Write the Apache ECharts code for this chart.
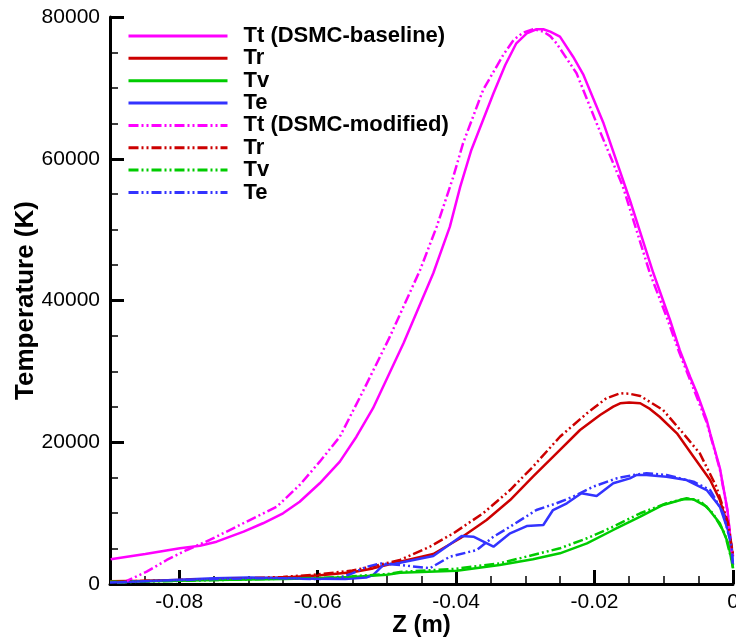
<!DOCTYPE html>
<html>
<head>
<meta charset="utf-8">
<script src="https://cdn.jsdelivr.net/npm/echarts@6/dist/echarts.min.js"></script>
<style>
html,body{margin:0;padding:0;background:#fff;}
#chart{width:736px;height:641px;}
</style>
</head>
<body>
<div id="chart"></div>
<script>
// ---- data (Z in m, temperature in K) ----
var legendLabels = ['Tt (DSMC-baseline)', 'Tr', 'Tv', 'Te', 'Tt (DSMC-modified)', 'Tr', 'Tv', 'Te'];
var yTicks = [0, 20000, 40000, 60000, 80000];

var ttBase = [[-0.0899,3480],[-0.0849,4230],[-0.0799,5040],[-0.0770,5400],[-0.0746,5970],[-0.0707,7380],[-0.0679,8570],[-0.0650,9980],[-0.0626,11610],[-0.0597,14210],[-0.0568,17260],[-0.0544,20780],[-0.0520,24800],[-0.0476,33960],[-0.0433,43840],[-0.0409,50420],[-0.0394,56060],[-0.0378,61240],[-0.0346,69240],[-0.0329,73230],[-0.0313,76290],[-0.0298,77700],[-0.0284,78270],[-0.0274,78270],[-0.0264,77930],[-0.0250,77230],[-0.0231,74400],[-0.0216,71820],[-0.0187,65000],[-0.0149,54180],[-0.0115,43840],[-0.0091,37250],[-0.0077,33020],[-0.0062,29250],[-0.0052,26910],[-0.0038,23140],[-0.0033,21260],[-0.0019,16370],[-0.0008,10440],[-0.0002,4800],[0,4100]];
var trBase = [[-0.09,400],[-0.085,450],[-0.08,550],[-0.075,650],[-0.07,750],[-0.065,900],[-0.06,1200],[-0.055,1650],[-0.052,2200],[-0.0481,3150],[-0.0433,4230],[-0.0394,6450],[-0.0356,9030],[-0.0322,11850],[-0.0289,15140],[-0.0255,18440],[-0.0221,21730],[-0.0192,23850],[-0.0173,25020],[-0.0163,25500],[-0.0150,25600],[-0.0134,25500],[-0.0120,24700],[-0.0106,23600],[-0.0081,21260],[-0.0057,17960],[-0.0033,14670],[-0.0019,11850],[-0.0007,8080],[0,3900]];
var tvBase = [[-0.09,300],[-0.085,400],[-0.08,450],[-0.075,550],[-0.07,650],[-0.065,700],[-0.06,800],[-0.055,1000],[-0.05,1300],[-0.0481,1590],[-0.0399,1880],[-0.0337,2680],[-0.0289,3490],[-0.0250,4330],[-0.0211,5740],[-0.0173,7620],[-0.0134,9500],[-0.0101,11150],[-0.0072,11950],[-0.0057,11950],[-0.0038,10910],[-0.0019,8570],[-0.0007,5740],[0,2300]];
var teBase = [[-0.09,200],[-0.085,400],[-0.08,600],[-0.075,800],[-0.07,900],[-0.065,850],[-0.06,750],[-0.056,700],[-0.053,900],[-0.052,1250],[-0.0505,2700],[-0.0481,3000],[-0.0433,3950],[-0.0392,6770],[-0.0375,6670],[-0.0346,5260],[-0.0322,7150],[-0.0298,8180],[-0.0274,8330],[-0.0260,10440],[-0.0240,11390],[-0.0219,12800],[-0.0197,12420],[-0.0173,14210],[-0.0149,14910],[-0.0139,15380],[-0.0125,15380],[-0.0096,15140],[-0.0067,14670],[-0.0038,13260],[-0.0019,10910],[-0.0004,6670],[0,2700]];
var ttMod = [[-0.0881,200],[-0.0847,1740],[-0.0818,3390],[-0.0789,4800],[-0.0756,6210],[-0.0722,7860],[-0.0693,9270],[-0.0659,10910],[-0.0626,13970],[-0.0597,17260],[-0.0568,20780],[-0.0534,27300],[-0.0496,34830],[-0.0452,44310],[-0.0428,50420],[-0.0404,57470],[-0.0390,62180],[-0.0361,69710],[-0.0332,74640],[-0.0317,76760],[-0.0303,77800],[-0.0288,78300],[-0.0274,77930],[-0.0264,77300],[-0.0255,76290],[-0.0226,72060],[-0.0197,65000],[-0.0159,56060],[-0.0120,43840],[-0.0096,37720],[-0.0077,32500],[-0.0062,28800],[-0.0038,22800],[-0.0019,16200],[-0.0008,10300],[-0.0002,4700],[0,4000]];
var trMod = [[-0.089,300],[-0.085,450],[-0.08,550],[-0.075,650],[-0.07,800],[-0.065,1000],[-0.06,1350],[-0.055,1900],[-0.052,2500],[-0.0481,3390],[-0.0438,5260],[-0.0404,7150],[-0.0361,9980],[-0.0322,13260],[-0.0289,16550],[-0.0250,20780],[-0.0211,24090],[-0.0183,26200],[-0.0163,26910],[-0.0150,26850],[-0.0134,26530],[-0.0101,24550],[-0.0072,21260],[-0.0048,18440],[-0.0024,13730],[-0.0007,8570],[0,4100]];
var tvMod = [[-0.089,200],[-0.085,350],[-0.08,450],[-0.075,550],[-0.07,650],[-0.065,750],[-0.06,850],[-0.055,1100],[-0.05,1400],[-0.0481,1700],[-0.04,2150],[-0.0337,2920],[-0.0289,4090],[-0.0250,5040],[-0.0211,6450],[-0.0173,8090],[-0.0134,9980],[-0.0096,11390],[-0.0067,12090],[-0.0048,11750],[-0.0029,9980],[-0.0012,7150],[-0.0002,3390],[0,2200]];
var teMod = [[-0.089,200],[-0.085,400],[-0.08,550],[-0.075,700],[-0.07,800],[-0.065,800],[-0.06,700],[-0.057,800],[-0.055,1500],[-0.053,2400],[-0.051,2900],[-0.0481,2680],[-0.0438,2220],[-0.0409,3850],[-0.0370,4800],[-0.0346,6670],[-0.0322,8090],[-0.0284,10440],[-0.0255,11390],[-0.0231,12320],[-0.0202,13730],[-0.0168,14910],[-0.0144,15380],[-0.0125,15620],[-0.0096,15380],[-0.0057,14440],[-0.0033,13260],[-0.0014,9980],[-0.0002,5260],[0,2500]];

// ---- styling ----
var COLORS = {tt:'#ff00ff', tr:'#cc0000', tv:'#00cc00', te:'#3333ff'};
var DASH = [10, 3, 2, 3, 2, 3];
var FONT = '"Liberation Sans", Arial, Helvetica, sans-serif';

function mk(idx, data, color, dashed) {
  // unique internal names (legend shows trimmed text)
  var name = legendLabels[idx] + (idx >= 5 ? ' ' : '');
  return {
    name: name, type: 'line', data: data, xAxisIndex: 0, yAxisIndex: 0,
    symbol: 'none', showSymbol: false, smooth: false, animation: false,
    lineStyle: {color: color, width: 2.5, type: dashed ? DASH : 'solid'},
    itemStyle: {color: color}
  };
}

var series = [
  mk(0, ttBase, COLORS.tt, false),
  mk(1, trBase, COLORS.tr, false),
  mk(2, tvBase, COLORS.tv, false),
  mk(3, teBase, COLORS.te, false),
  mk(4, ttMod, COLORS.tt, true),
  mk(5, trMod, COLORS.tr, true),
  mk(6, tvMod, COLORS.tv, true),
  mk(7, teMod, COLORS.te, true)
];

var chart = echarts.init(document.getElementById('chart'), null, {renderer: 'canvas'});
chart.setOption({
  animation: false,
  backgroundColor: '#ffffff',
  textStyle: {fontFamily: FONT},
  grid: {left: 110, right: 3, top: 17, bottom: 57, containLabel: false, outerBoundsMode: 'none'},
  legend: {
    orient: 'vertical', left: 127, top: 25, padding: 0,
    itemWidth: 99, itemHeight: 10, itemGap: 0.35,
    data: series.map(function (s) { return s.name; }),
    formatter: function (n) { return n.trim(); },
    lineStyle: {width: 3},
    itemStyle: {color: 'transparent', borderColor: 'transparent', borderWidth: 0, opacity: 0},
    textStyle: {fontFamily: FONT, fontSize: 22, fontWeight: 'bold', color: '#000', lineHeight: 20, padding: [0, 0, 0, 11]},
    selectedMode: false
  },
  xAxis: [{
    type: 'value', min: -0.09, max: 0, splitNumber: 5,
    name: 'Z (m)', nameLocation: 'middle', nameGap: 29, nameMoveOverlap: false,
    nameTextStyle: {fontFamily: FONT, fontSize: 24, fontWeight: 'bold', color: '#000'},
    axisLine: {show: true, onZero: false, lineStyle: {color: '#000', width: 3}},
    axisTick: {show: true, inside: true, length: 14, lineStyle: {color: '#000', width: 3}},
    axisLabel: {show: true, showMinLabel: false, color: '#000', fontSize: 21, fontFamily: FONT, margin: 8,
      formatter: function (v) { return v === 0 ? '0' : String(Math.round(v * 100) / 100); }},
    splitLine: {show: false}
  }, {
    type: 'value', min: -0.09, max: 0, interval: 0.005, position: 'bottom',
    axisLine: {show: false, onZero: false},
    axisTick: {show: true, inside: true, length: 8, lineStyle: {color: '#000', width: 1.5}},
    axisLabel: {show: false},
    splitLine: {show: false}
  }],
  yAxis: [{
    type: 'value', min: yTicks[0], max: yTicks[yTicks.length - 1], interval: yTicks[1] - yTicks[0],
    name: 'Temperature (K)', nameLocation: 'middle', nameGap: 71, nameRotate: 90, nameMoveOverlap: false,
    nameTextStyle: {fontFamily: FONT, fontSize: 26, fontWeight: 'bold', color: '#000'},
    axisLine: {show: true, onZero: false, lineStyle: {color: '#000', width: 3}},
    axisTick: {show: true, inside: true, length: 14, lineStyle: {color: '#000', width: 3}},
    minorTick: {show: true, splitNumber: 4, length: 8, lineStyle: {color: '#000', width: 1.5}},
    axisLabel: {color: '#000', fontSize: 21, fontFamily: FONT, margin: 10,
      formatter: function (v) { return String(v); }},
    splitLine: {show: false}
  }],
  series: series
});
</script>
</body>
</html>
